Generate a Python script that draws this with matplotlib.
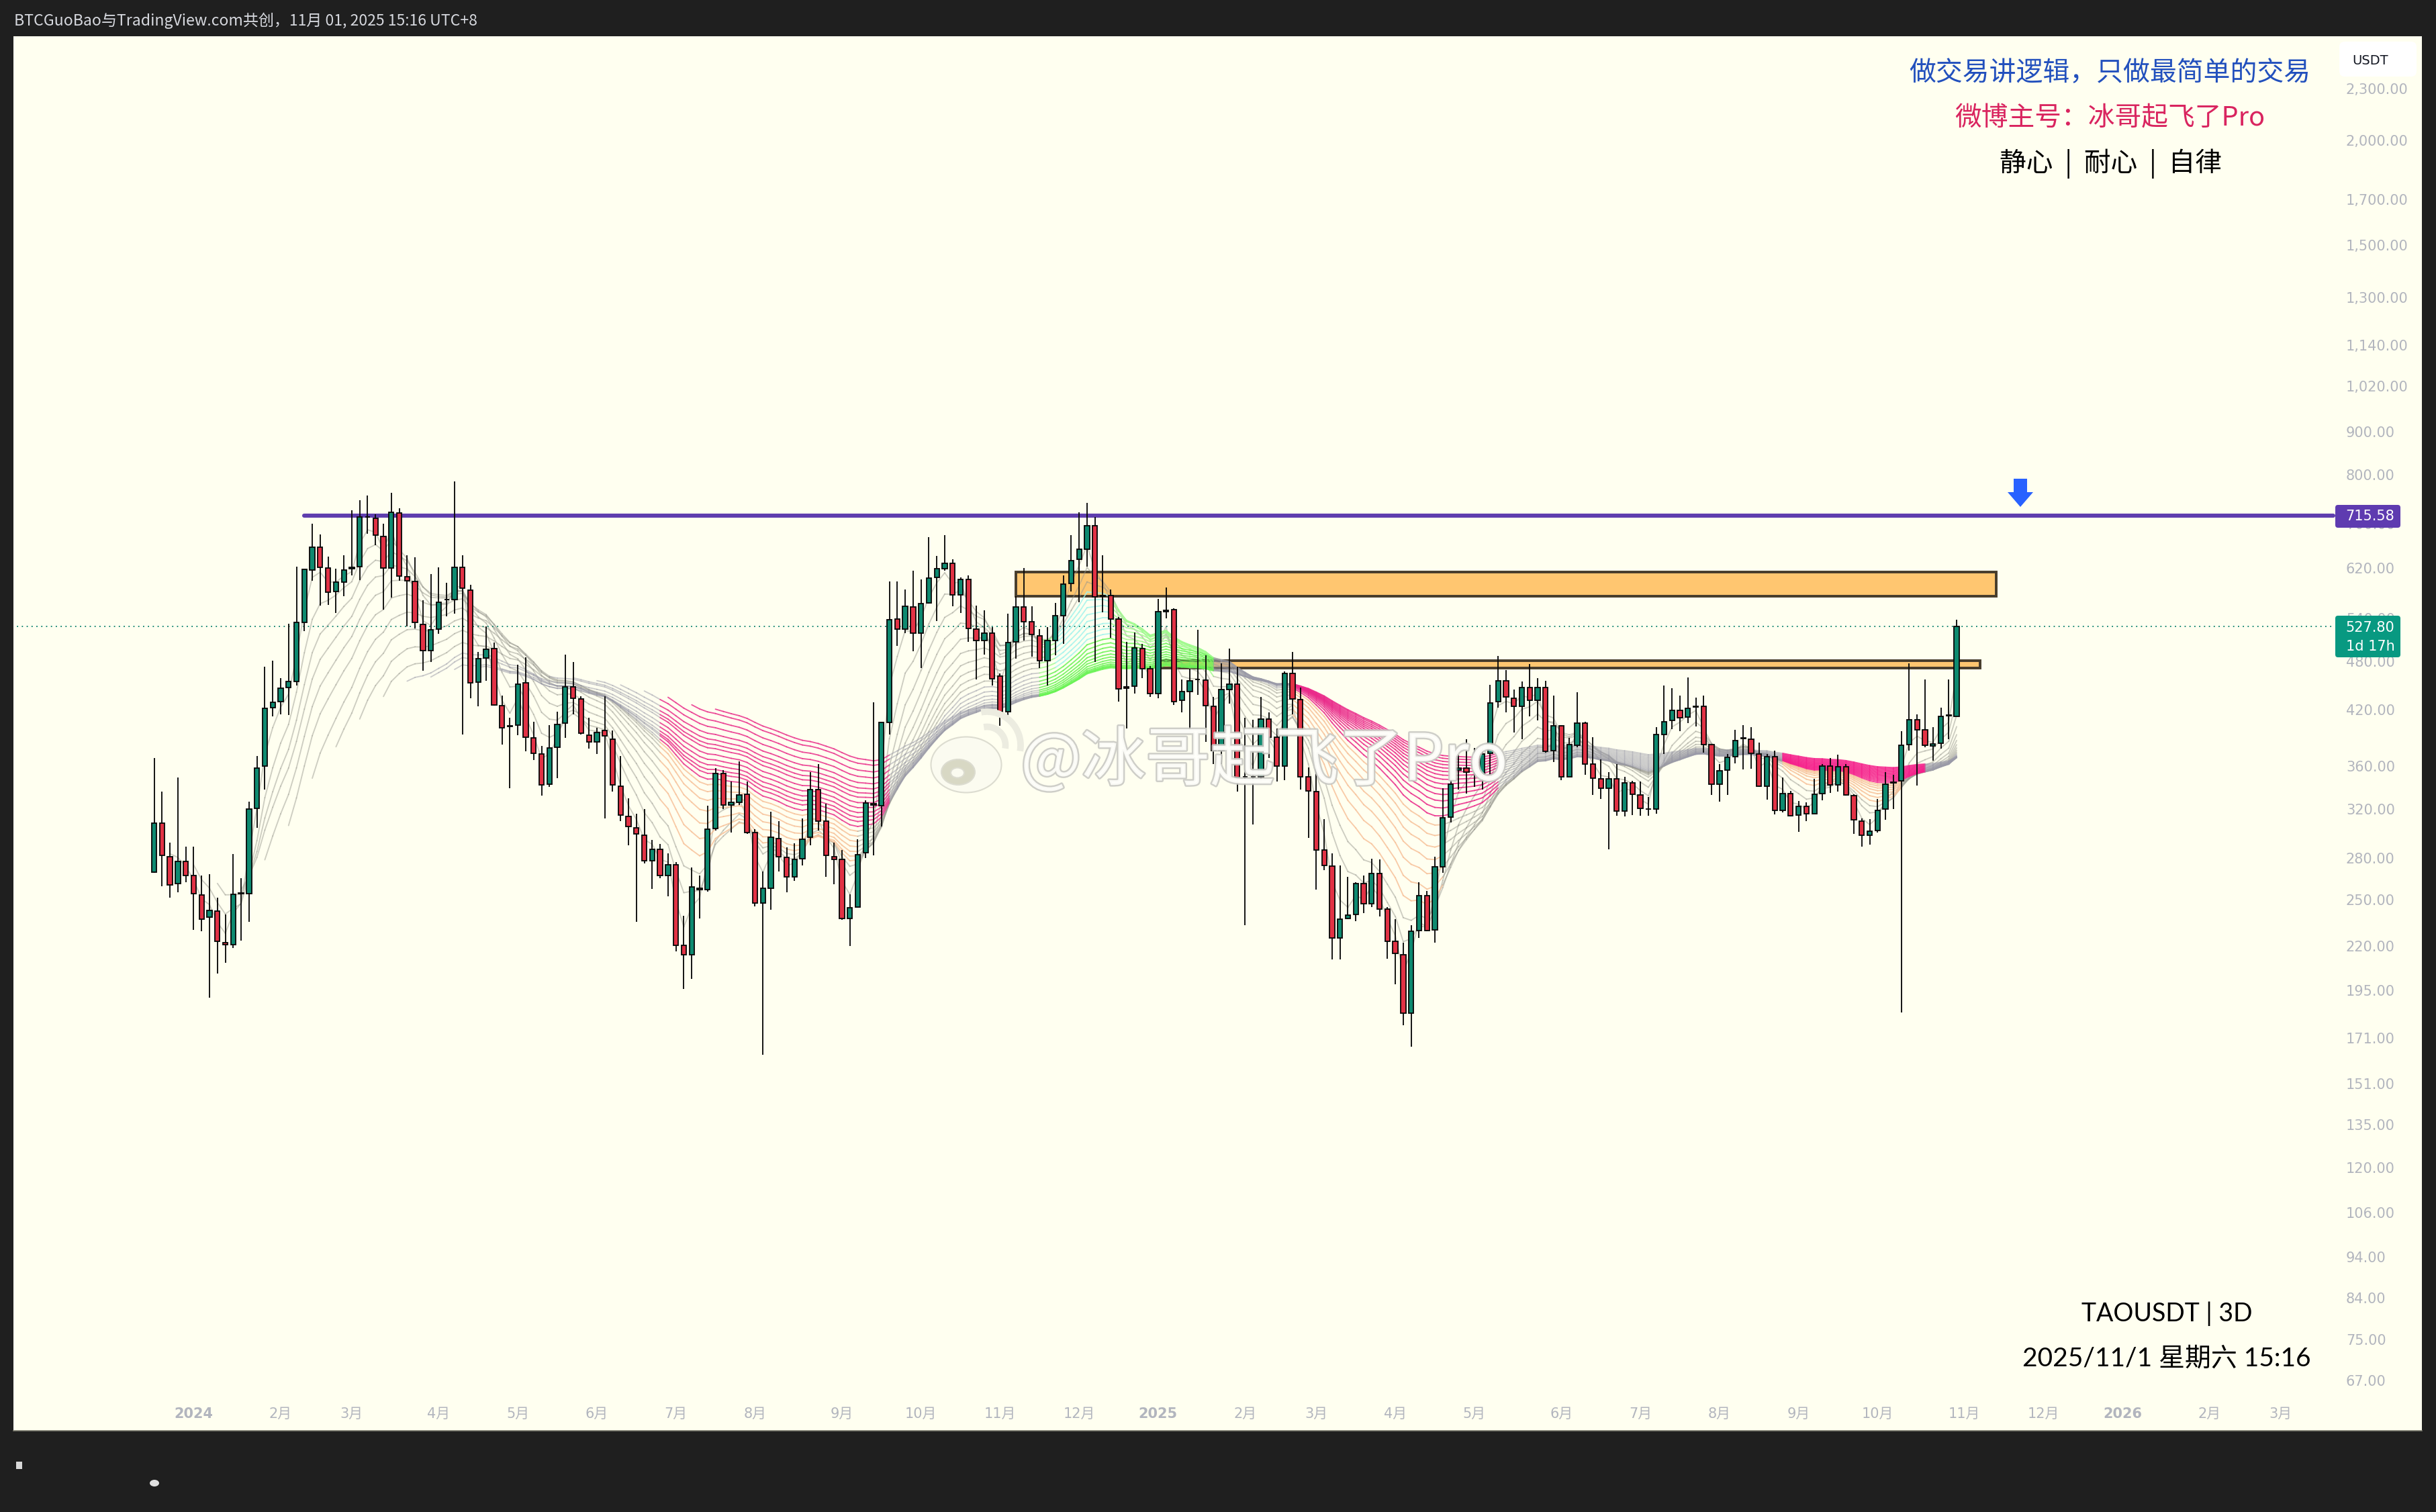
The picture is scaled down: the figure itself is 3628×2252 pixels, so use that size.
import numpy as np
import matplotlib
matplotlib.use("Agg")
import matplotlib.pyplot as plt
from matplotlib.patches import Rectangle, FancyBboxPatch, Polygon, Ellipse, Arc
from matplotlib.collections import LineCollection
from matplotlib.colors import to_rgba
from matplotlib.transforms import IdentityTransform, ScaledTranslation
import matplotlib.patheffects as pe

opens = [269.5,308,281,261,277.5,267,253,238,242,222,
221,254,254,321,360,423,430,447,454,534,
616,656,620,581,596,618,622,712,710,676,
620,720,605,597,531,494,524,568,568.5,621,
583,453,484,497,425,402,403,452,389,372,
343,379,405,447.5,433,392,385,397,388,341,
314,304,298,278,287,267,275,220.5,215,258,
257,303.5,353,324,326,333.5,300,247.5,258,295.5,
280.5,266,279.5,296.5,337.5,310,281,279,237.5,245,
284,325,323,406,538.5,524,557,518.5,563,604,
618.5,628,576,600,524,508,518,461,418,506,
557,535,515,480.5,508,543.5,594,634,652.5,695,
575,575,538.5,447.5,448,497,470,439,550,552.5,
431,442,456.5,455.5,424,376,444.5,450.5,349.5,350,
349.5,410,389.5,360,464,432,350,336,286,274,
225,237.5,240,261,247,268.5,243.5,223,215,183,
229.5,252.5,230,273.5,313,356.5,358.5,360.5,352,373,
429.5,454.5,434,424,447,431.5,446.5,375.5,402,350,
381.5,405.5,362,348,339,348,318.5,344,333,320,
320,393,408,419.5,412,423.5,424.5,382,342.5,356,
369.5,389,388,372,341,369.5,319,334,315,322.5,
316,334,360,342,359.5,332.5,310,298,302,320.5,
344,346,382,409,398,380.5,383.5,413.5,413]

highs = [368,336,292,349,289,289,267,268,251,240,
283,265,327,370,473,481,458,532,622,617,
700,679,639,618.5,642,726,746,756,717.5,700,
761,730,641,638,567,609,621,595,785,641,
592,492,528,505,437,411,475,485,407,380.5,
403,418,489,479,436,411,400,436,397,370,
330,316,320,294,291,283.5,277,239,273,267,
323,358,356,345,365,345,303,270,318,310,
288.5,291.5,312,354,362,325,292,286,253.5,295,
328,429,406,597,597,584,614.5,601,674,640,
678.5,635,604,607,559,552,527,464,547,573,
620,558,524,527,563.5,607,678.5,722,741,712,
641,584,542,506,519.5,503,474,569,587,555,
457,470,523,488,435,477,497,473,411,409,
435.5,417.5,399.5,467,492.5,447,359,359,311.5,283.5,
274.5,266,262,267,279.5,279,245,237,222,233,
262,256,281,339,360,371.5,388,378.5,378.5,450,
487,468.5,444,454,476,458.5,455,437,403,389,
441,407,390,367,354,362,349.5,346,345.5,331,
400.5,449,446,436.5,459.5,434.5,436.5,383,362,372.5,
397.5,403,401,384,372.5,376,349,336.5,327.5,326,
348,362.5,368,371.5,362.5,333.5,312,311.5,329,354,
352,396.5,477,415,457,401,422.5,457,538]

lows = [269,259,251,255,262,230,229,191,204,210,
219,223.5,235,304,338,412.5,415,414,449,521,
598,559,560,548,573,607,599,680,660,553,
571,598,528,525,468,479,517.5,543,547,392.5,
434,424,455,425,382,339,392,375,366,332,
340,348.5,389,415,393,378,372,312,336,310,
290,235,276,257.5,265,252,217,195.5,201,237.5,
255.5,302,320,300,324,299,245.5,163.5,243,270,
255,263,274.5,290,302,266,260.5,236.5,220,245,
280,282,305,393,500.5,518,493,471,562,535.5,
615,558,548,506,457,489,449,402,414,483,
508,486,471.5,449,488,503,581,564,622,479,
549,512,430,399,439,458,435,434,540,426,
417,395,437.5,385,362,362,427,336,233,307,
345,368,345.5,346.5,415,338,296,257,271,212,
212,237,235.5,241,245,238.5,212.5,198,177,167,
225,229,222,269,308.5,337.5,334,340,338,352,
423,417.5,395,387.5,413,408,374,364.5,346.5,349.5,
379.5,352,333,329,287,314.5,314,315,314.5,314.5,
316,372.5,398.5,396,405.5,401.5,374,333,326.5,333,
363,357,357.5,340,328.5,315.5,317.5,314,301,310,
316,328,334.5,336,332.5,299,289,290.5,300,311,
320.5,183.5,375.5,341.5,379.5,365.5,378,387.5,413]

closes = [308,282,260,277.5,267,254,237,242.5,223,221,
253.5,254.5,320,358,422,429,446,454,534,617,
656,621,580,596,616,621,712,713,678.5,620,
721,606,598,534,494,523,564,568.5,621,586,
452,483,496,426,400,401.5,451,390,373,342,
378.5,404,447.5,434,394,385,395,391,342,315,
305,299,278,287,267,275,220.5,215,258.5,257,
303,353,324,326,333,300.5,247.5,258,296.5,281,
266,279,295,337.5,310,282,279,237.5,244.5,282.5,
325.5,323.5,406,538,524.5,558,518,561.5,603,618,
628,576,600,525,508,518,457.5,418,505,557,
535,516,480.5,508,543.5,593,632,652,695,572,
573,539,445,446,497.5,470,439,549.5,551.5,430,
442,455,457,425,376,444,450.5,349,350,349.5,
410,390,360,464,432.5,350,336.5,286.5,274.5,225,
237,239.5,261,247,268.5,243.5,223,215.5,183,229,
252.5,229.5,273.5,312.5,343,358.5,354.5,362,372,428.5,
454.5,435,424,447,431,446.5,375,402,350,382,
405.5,362.5,348.5,339,348,318.5,344,333.5,321,320.5,
392.5,406.5,419.5,411.5,422,424.5,382,342.5,355.5,369,
386.5,388.5,373,341,369.5,319,334,314.5,322.5,316,
333.5,360.5,342,359.5,333,311,298,301.5,319,343,
344.5,381.5,409,398,381,382.5,413,414,527.8]

price_ticks = [2300,2000,1700,1500,1300,1140,1020,900,800,700,620,540,480,420,360,320,
               280,250,220,195,171,151,135,120,106,94,84,75,67]
month_pos = [5,16,25,36,46,56,66,76,87,97,107,117,127,138,147,157,167,178,188,198,208,218,229,239,249,260,269]
month_labels = ['2024','2月','3月','4月','5月','6月','7月','8月','9月','10月','11月','12月','2025',
                '2月','3月','4月','5月','6月','7月','8月','9月','10月','11月','12月','2026','2月','3月']
resistance = 715.58
last_price = 527.80
zones = [(109, 233, 574, 613), (127, 231, 471.5, 481)]
ribbon_lengths = list(range(3, 73, 3))
# (first bar, last bar, shortest MA length, colour)
ribbon_regimes = [(65, 89, 12, '#f7bf96'), (65, 93, 33, '#ea348d'),
                  (113, 134, 12, '#a0fa8e'), (115, 121, 12, '#9ff3ec'), (113, 134, 36, '#6cf357'),
                  (145, 163, 12, '#f7bf96'), (145, 170, 33, '#ea2a8a'),
                  (207, 221, 12, '#f7bf96'), (207, 224, 33, '#f5208b')]

W, H = 3628, 2252
BG = '#fffff0'
DARK = '#1f1f1f'
GREEN = '#0e8a70'
RED = '#e23245'
AXC = '#b2b5be'
CJK = ['Noto Sans CJK SC', 'DejaVu Sans']
LAT = ['DejaVu Sans', 'Noto Sans CJK SC']

fig = plt.figure(figsize=(W / 100, H / 100), dpi=100, facecolor=DARK)
ax = fig.add_axes([20 / W, 1 - 2131 / H, (3607 - 20) / W, (2131 - 54) / H], facecolor=BG)
ax.set_yscale('log')
ax.set_ylim(58.36, 2657)
ax.set_xlim(-17.8, 286.85)
for s in ['top', 'left', 'right']:
    ax.spines[s].set_visible(False)
ax.spines['bottom'].set_color('#77776a')
ax.spines['bottom'].set_linewidth(1.2)

ax.yaxis.tick_right()
ax.yaxis.set_ticks(price_ticks)
ax.yaxis.set_ticklabels([f'{p:,.2f}' for p in price_ticks])
ax.yaxis.set_minor_locator(matplotlib.ticker.NullLocator())
ax.tick_params(axis='y', which='major', length=0, pad=-81.4, labelsize=15, labelcolor=AXC, labelright=True)
for t in ax.get_yticklabels():
    t.set_ha('left')
ax.xaxis.set_ticks(month_pos)
ax.xaxis.set_ticklabels(month_labels)
ax.tick_params(axis='x', length=0, pad=-25.5, labelsize=15, labelcolor=AXC)
for t, lab in zip(ax.get_xticklabels(), month_labels):
    t.set_family(LAT)
    if '月' not in lab:
        t.set_fontweight('bold')

x = np.arange(len(closes))
o, h, l, c = map(np.array, (opens, highs, lows, closes))

# price zones
for x0, x1, p0, p1 in zones:
    ax.add_patch(Rectangle((x0, p0), x1 - x0, p1 - p0, facecolor='#ffc670', edgecolor='#463c2c',
                           linewidth=2.8, zorder=1))

# moving-average ribbon computed from the closes
def ema(vals, n):
    out = np.full(len(vals), np.nan)
    out[n - 1] = vals[:n].mean()
    a = 2 / (n + 1)
    for k in range(n, len(vals)):
        out[k] = a * vals[k] + (1 - a) * out[k - 1]
    return out

for n in ribbon_lengths:
    m = ema(c, n)
    base = to_rgba('#9a9aa8', 0.5) if n >= 33 else to_rgba('#98988f', 0.48)
    cols = [base] * len(c)
    for a, b, nmin, col in ribbon_regimes:
        if n >= nmin:
            al = 0.85 if nmin >= 33 else 0.8
            for k in range(a, b + 1):
                cols[k] = to_rgba(col, al)
    segs, sc = [], []
    for k in range(n, len(c)):
        segs.append([(k - 1, m[k - 1]), (k, m[k])])
        sc.append(cols[k])
    ax.add_collection(LineCollection(segs, colors=sc, linewidths=1.35, zorder=2, capstyle='round'))

# horizontal levels
ax.plot([-18, 275.6], [last_price] * 2, color='#067f6b', lw=1.3, ls=(0, (1, 3)), zorder=2)
ax.plot([19, 275.6], [resistance] * 2, color='#5f3eae', lw=4.4, solid_capstyle='round', zorder=3)

# candles
ax.vlines(x, l, h, color='#0a0a0a', lw=1.35, zorder=4)
bot = np.minimum(o, c)
top = np.maximum(o, c)
ax.bar(x, top - bot, bottom=bot, width=0.62, color=[GREEN if cc >= oo else RED for oo, cc in zip(o, c)],
       edgecolor='#0a0a0a', linewidth=1.35, zorder=5)

def px(X, Y):
    return X / W, 1 - Y / H

def T(X, Y, s, **kw):
    kw.setdefault('ha', 'center')
    kw.setdefault('va', 'center')
    fx, fy = px(X, Y)
    return fig.text(fx, fy, s, **kw)

def box(x0, y0, x1, y1, col, r=4):
    p = FancyBboxPatch((x0 + r, H - y1 + r), x1 - x0 - 2 * r, y1 - y0 - 2 * r,
                       boxstyle=f'round,pad={r},rounding_size={r}', facecolor=col, edgecolor='none',
                       transform=IdentityTransform(), zorder=8)
    fig.add_artist(p)

# top bar text
T(21, 31, 'BTCGuoBao与TradingView.com共创，11月 01, 2025 15:16 UTC+8', ha='left', fontsize=16.6,
  color='#d6d8de', family=['Noto Sans CJK SC', 'DejaVu Sans'], zorder=9)

# price-axis items
box(3484, 62, 3599, 114, '#ffffff', r=8)
T(3530, 90, 'USDT', fontsize=14, color='#131722', family='DejaVu Sans', zorder=9)
box(3478, 752, 3575, 786, '#5e3bb0')
T(3530, 769, '715.58', fontsize=15, color='white', family='DejaVu Sans', zorder=9)
box(3478, 917, 3575, 979, '#089981')
T(3530, 935, '527.80', fontsize=15, color='white', family='DejaVu Sans', zorder=9)
T(3530, 963, '1d 17h', fontsize=15, color='white', family='DejaVu Sans', zorder=9)

# captions
T(3142, 109, '做交易讲逻辑，只做最简单的交易', fontsize=28.7, color='#2250bd', family=CJK, zorder=9)
T(3142, 176, '微博主号：冰哥起飞了Pro', fontsize=28.6, color='#d9245f', family=CJK, zorder=9)
T(3143, 244, '静心  |  耐心  |  自律', fontsize=28.6, color='#000000', family=CJK, zorder=9)
T(3227, 1957, 'TAOUSDT | 3D', fontsize=27, color='#000000', family=['Lato', 'Noto Sans CJK SC'], zorder=9)
T(3227, 2024, '2025/11/1 星期六 15:16', fontsize=28, color='#000000', family=['Lato', 'Noto Sans CJK SC'], zorder=9)

# arrow
arrow = Polygon([(2999, H - 713), (3019, H - 713), (3019, H - 733), (3028, H - 733), (3009, H - 755),
                 (2990, H - 733), (2999, H - 733)], closed=True, facecolor='#2962ff', edgecolor='none',
                transform=IdentityTransform(), zorder=9)
fig.add_artist(arrow)

# watermark
fx = [pe.withStroke(linewidth=3.5, foreground='#c9c9c4')]
t = T(1520, 1134, '@冰哥起飞了Pro', ha='left', fontsize=69, color='#fffffb', family=CJK, zorder=10, alpha=0.9)
t.set_path_effects(fx)
for (cx, cy, ww, hh, fc) in [(1439, 1139, 105, 83, '#fbfbf0'), (1427, 1150, 50, 38, '#d8d8c4'), (1426, 1151, 20, 15, '#fbfbf0')]:
    fig.add_artist(Ellipse((cx, H - cy), ww, hh, facecolor=fc, edgecolor='#dcdcd0', lw=1.5,
                           transform=IdentityTransform(), zorder=10))
for (cx, cy, d) in [(1470, 1110, 55), (1470, 1110, 100)]:
    fig.add_artist(Arc((cx, H - cy), d, d, theta1=-10, theta2=100, color='#ecece0', lw=7,
                       transform=IdentityTransform(), zorder=10))

# bottom-left smudges
fig.add_artist(Rectangle((24, H - 2188), 9, 11, facecolor='#d8d8d8', edgecolor='none', transform=IdentityTransform()))
fig.add_artist(Ellipse((230, H - 2209), 14, 10, facecolor='#e0e0e0', edgecolor='none', transform=IdentityTransform()))

fig.savefig('out.png', dpi=100, facecolor=DARK)
